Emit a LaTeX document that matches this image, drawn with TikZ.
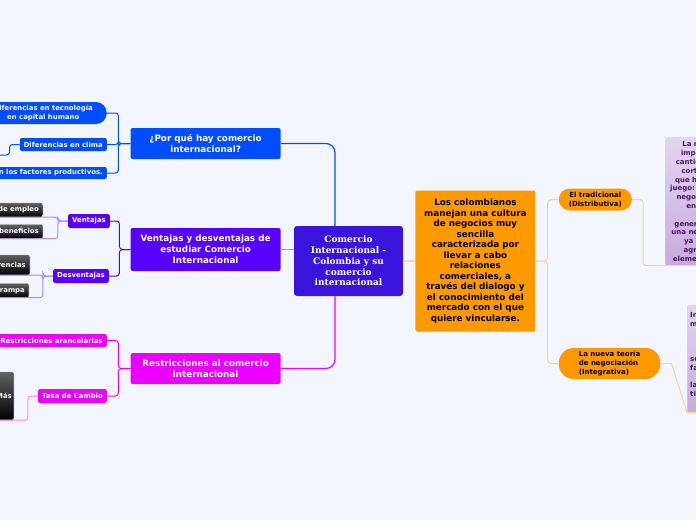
\documentclass[tikz,border=0pt]{standalone}
\usepackage{fontspec}
\setmainfont{DejaVu Sans}
\newfontfamily\serifface{DejaVu Serif}
\usetikzlibrary{positioning}

\definecolor{bgpage}{RGB}{243,246,254}
\definecolor{cCenter}{RGB}{58,20,220}
\definecolor{cBlue}{RGB}{0,76,255}
\definecolor{cViolet}{RGB}{88,0,255}
\definecolor{cVioletL}{RGB}{170,140,255}
\definecolor{cMag}{RGB}{236,0,255}
\definecolor{cMagL}{RGB}{244,140,255}
\definecolor{cOrange}{RGB}{255,153,0}
\definecolor{cOrangeL}{RGB}{255,210,150}
\definecolor{noteTop}{RGB}{229,212,243}
\definecolor{noteBot}{RGB}{200,170,222}
\definecolor{noteText}{RGB}{72,22,92}

\begin{document}
\begin{tikzpicture}[x=1pt, y=-1pt,
  hub/.style={fill=cCenter, rounded corners=3pt, text=white, align=center, font=\serifface\bfseries\fontsize{9}{10.8}\selectfont, minimum width=109pt, minimum height=70pt},
  topic/.style={fill=#1, rounded corners=2pt, text=white, align=center, font=\bfseries\fontsize{8.8}{10.8}\selectfont, minimum width=150pt, inner sep=2pt},
  lbl/.style={fill=#1, rounded corners=2pt, text=white, font=\bfseries\fontsize{6.9}{8.4}\selectfont, inner xsep=4pt, inner ysep=1pt, minimum height=13pt},
  dark/.style={top color=black!62, bottom color=black, draw=black!40, rounded corners=2pt, text=white, font=\bfseries\fontsize{6.9}{8.4}\selectfont, inner xsep=4pt, inner ysep=1pt, minimum height=14pt},
  pill/.style={fill=cOrange, rounded corners=11pt, font=\bfseries\fontsize{7}{8.7}\selectfont, inner xsep=10pt, minimum height=22pt},
  note/.style={top color=noteTop, bottom color=noteBot, draw=noteTop, rounded corners=2pt, text=noteText, font=\bfseries\fontsize{7}{8.8}\selectfont, inner xsep=5pt, inner ysep=4pt},
  link/.style={draw=#1, line width=1.2pt},
  sub/.style={draw=#1, line width=1pt},
]

% --- page ---
\fill[bgpage] (0,0) rectangle (696,520);
\useasboundingbox (0,0) rectangle (696,520);
\clip (0,0) rectangle (696,520);

% --- center ---
\node[hub] (center) at (348.5,261) {Comercio\\Internacional -\\Colombia y su\\comercio\\internacional};

% --- left topics ---
\node[topic=cBlue, left=13pt of center, yshift=117.5pt, minimum height=31pt] (por) {¿Por qué hay comercio\\internacional?};
\node[topic=cViolet, left=13pt of center, yshift=11.5pt, minimum height=43pt] (ventop) {Ventajas y desventajas de\\estudiar Comercio\\Internacional};
\node[topic=cMag, left=13pt of center, yshift=-107.5pt, minimum height=31pt] (restr) {Restricciones al comercio\\internacional};

% --- right topic ---
\node[fill=cOrange, rounded corners=2pt, align=center, font=\bfseries\fontsize{8.8}{10.5}\selectfont, minimum width=120pt, minimum height=141pt, inner sep=2pt, right=12pt of center] (cult) {Los colombianos\\manejan una cultura\\de negocios muy\\sencilla\\caracterizada por\\llevar a cabo\\relaciones\\comerciales, a\\través del dialogo y\\el conocimiento del\\mercado con el que\\quiere vincularse.};
\node[pill, right=23pt of cult, yshift=61.5pt, align=center] (trad) {El tradicional\\(Distributiva)};
\node[pill, right=23pt of cult, yshift=-102.5pt, align=left, minimum height=30pt, rounded corners=15pt, inner xsep=20pt] (nueva) {La nueva teoría\\de negociación\\(Integrativa)};

% --- notes ---
\node[note, anchor=north west, align=center] (noteA) at (665,137) {La negociación\\implica repartir\\cantidad limitada,\\cortar el pastel\\que hay en todo el\\juego: ganar-perder;\\negociación dura,\\en un mismo\\~\\generando a veces\\una negociación con\\ya que no hay\\agregación de\\elementos de valor.};
\node[note, anchor=north west, align=left, inner xsep=3pt, inner ysep=7pt] (noteB) at (687,305) {Integra los intereses\\mutuos de las partes\\~\\~\\~\\se busca crear valor\\favoreciendo a todos\\~\\la relación a largo\\tiempo.\\~};

% --- blue branch ---
\node[lbl=cBlue, anchor=east, rounded corners=11pt, align=center, minimum height=22pt, inner xsep=14pt] (tec) at (107,113) {Diferencias en tecnología\\en capital humano};
\node[lbl=cBlue, anchor=east] (clima) at (107,144.5) {Diferencias en clima};
\node[lbl=cBlue, anchor=east, minimum height=12pt] (fact) at (107,173) {Diferencias en los factores productivos.};
\coordinate (climakid) at (-20,155);

% --- violet branch ---
\node[lbl=cViolet, anchor=east, minimum height=14pt] (ven) at (110,221) {Ventajas};
\node[lbl=cViolet, anchor=east, minimum height=14pt] (desv) at (109,276) {Desventajas};
\node[dark, anchor=east] (empl) at (43,210) {Fuentes de empleo};
\node[dark, anchor=east] (benef) at (43,231.5) {Mayores beneficios};
\node[dark, anchor=east, minimum height=20pt] (enc) at (30,265) {Diferencias};
\node[dark, anchor=east] (rampa) at (29,290.5) {Caer en la trampa};

% --- magenta branch ---
\node[lbl=cMag, anchor=east] (aran) at (107,340.5) {Restricciones arancelarias};
\node[lbl=cMag, anchor=east, minimum height=14pt] (tasa) at (107,396) {Tasa de Cambio};
\node[dark, anchor=east, minimum height=48pt, inner xsep=2pt] (mas) at (14,396) {Más};

% --- main links ---
\draw[link=cBlue, rounded corners=9pt] (por.east) -| ([xshift=-13.5pt]center.north);
\draw[link=cVioletL] (ventop.east) -- (ventop.east -| center.west);
\draw[link=cMag, rounded corners=9pt] (restr.east) -| ([xshift=-13.5pt]center.south);
\draw[link=cOrangeL] (center.east) -- (cult.west);

% --- sub links ---
\foreach \k in {tec, clima, fact} { \draw[sub=cBlue, rounded corners=3pt] (por.west) -- ++(-12pt,0) |- (\k.east); }
\draw[sub=cBlue, rounded corners=3pt] (clima.west) -- ++(-10pt,0) |- (climakid);

\foreach \k in {ven, desv} { \draw[sub=cViolet, rounded corners=3pt] (ventop.west) -- ++(-11pt,0) |- (\k.east); }
\foreach \k in {empl, benef} { \draw[sub=cVioletL, rounded corners=3pt] (ven.west) -- ++(-10pt,0) |- (\k.south east) -- (\k.south west); }
\foreach \k in {enc, rampa} { \draw[sub=cVioletL, rounded corners=3pt] (desv.west) -- ++(-10pt,0) |- (\k.south east) -- (\k.south west); }

\foreach \k in {aran, tasa} { \draw[sub=cMag, rounded corners=3pt] (restr.west) -- ++(-12pt,0) |- (\k.east); }
\draw[sub=cMagL, rounded corners=3pt] (tasa.west) -- ++(-10pt,0) |- (mas.south east) -- (mas.south west);

\foreach \k in {trad, nueva} { \draw[sub=cOrangeL, rounded corners=4pt] (cult.east) -- ++(12pt,0) |- (\k.west); }
\draw[sub=cOrangeL, rounded corners=3pt] (trad.east) -- ++(11pt,0) |- (noteA.south west) -- (noteA.south east);
\draw[sub=cOrangeL] (nueva.east) -- ++(11pt,0) -- (noteB.south west) -- (noteB.south east);

\end{tikzpicture}
\end{document}
